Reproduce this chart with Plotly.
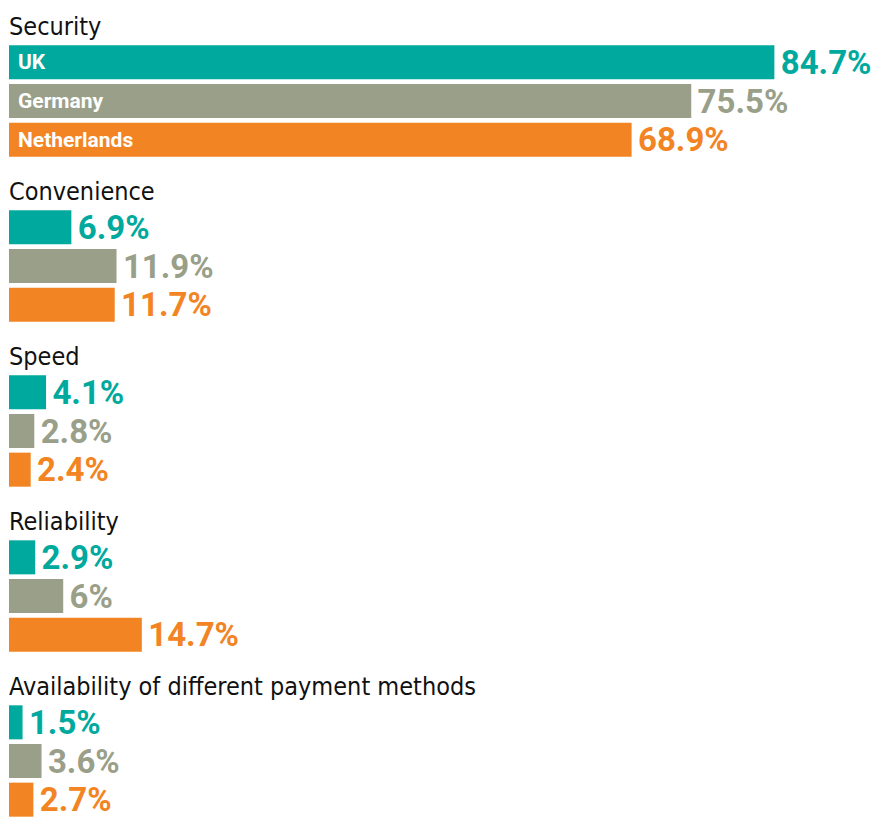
import plotly.graph_objects as go
from plotly.subplots import make_subplots

groups = ["Security", "Convenience", "Speed", "Reliability",
          "Availability of different payment methods"]
countries = ["UK", "Germany", "Netherlands"]
uk = [84.7, 6.9, 4.1, 2.9, 1.5]
germany = [75.5, 11.9, 2.8, 6, 3.6]
netherlands = [68.9, 11.7, 2.4, 14.7, 2.7]
colors = ["#00A99D", "#9A9F89", "#F28423"]

series = [uk, germany, netherlands]

fig = make_subplots(rows=len(groups), cols=1, shared_xaxes=True,
                    vertical_spacing=49 / 776)

for gi, g in enumerate(groups):
    row = gi + 1
    for ci, c in enumerate(countries):
        v = series[ci][gi]
        fig.add_trace(go.Bar(
            x=[v], y=[c], orientation="h",
            marker=dict(color=colors[ci], line=dict(width=0)),
            text=[f"\u200a{v:g}%"], textposition="outside",
            textfont=dict(family="Roboto", size=33, color=colors[ci], weight="bold"),
            constraintext="none", cliponaxis=False,
            showlegend=False, hoverinfo="skip",
        ), row=row, col=1)
    xref = "x" if row == 1 else f"x{row}"
    yref = "y" if row == 1 else f"y{row}"
    fig.add_annotation(
        text=g, xref=f"{xref} domain", yref=f"{yref} domain",
        x=0, y=1, xanchor="left", yanchor="bottom", yshift=0, xshift=-2,
        showarrow=False,
        font=dict(family="DejaVu Sans Condensed", size=25, color="#111111"),
    )
    fig.update_yaxes(categoryorder="array", categoryarray=countries[::-1],
                     showticklabels=False, showgrid=False, zeroline=False,
                     row=row, col=1)
    fig.update_xaxes(range=[0, 96.5], visible=False, row=row, col=1)

# country labels inside the first group's bars
for ci, c in enumerate(countries):
    fig.add_annotation(
        text=c, xref="x", yref="y", x=0, y=c, xanchor="left", yanchor="middle",
        xshift=7, showarrow=False,
        font=dict(family="Roboto", size=21, color="white", weight="bold"),
    )

fig.update_layout(
    width=881, height=819,
    margin=dict(l=9, r=0, t=43, b=0),
    paper_bgcolor="white", plot_bgcolor="white",
    bargap=0.12,
)

fig.write_html("out.html")
